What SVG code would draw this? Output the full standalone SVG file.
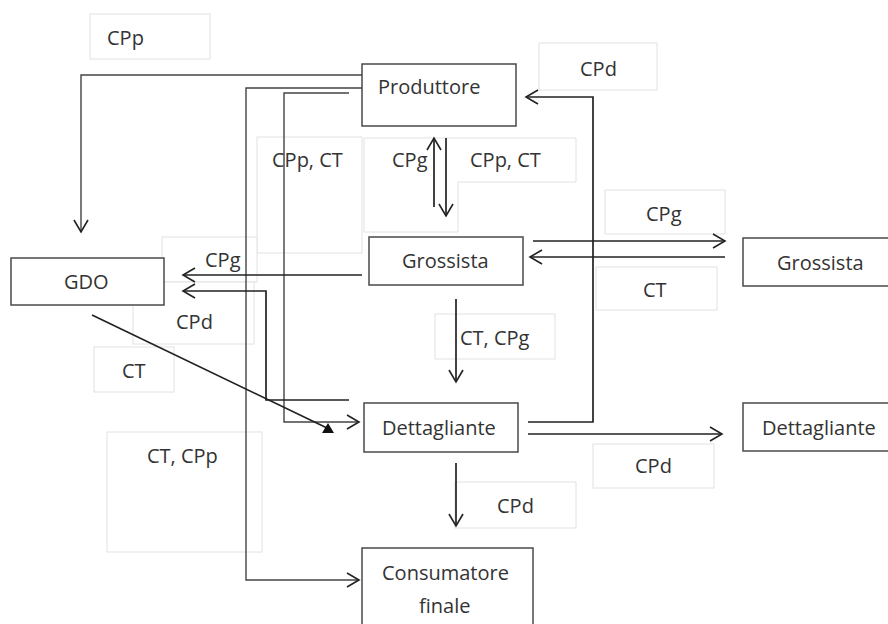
<svg xmlns="http://www.w3.org/2000/svg" width="888" height="624" viewBox="0 0 888 624">
<style>
  .lb { fill: #fff; stroke: #e2e2e2; stroke-width: 1; }
  .nd { fill: #fff; stroke: #4a4a4a; stroke-width: 1.5; }
  text { font-family: "Open Sans", "Liberation Sans", sans-serif; font-size: 20px; fill: #333; }
  .c { fill: none; stroke: #222; stroke-width: 1.7; }
  .cg { fill: none; stroke: #444; stroke-width: 1.4; }
</style>
<defs>
  <marker id="a" markerUnits="userSpaceOnUse" markerWidth="16" markerHeight="18" refX="13" refY="8" orient="auto">
    <path d="M1,1 L13,8 L1,15" fill="none" stroke="#222" stroke-width="1.6"/>
  </marker>
</defs>
<rect width="888" height="624" fill="#fff"/>

<g id="labels">
  <g id="lbl-cpp-top"><rect class="lb" x="90" y="14" width="120" height="45"/><text x="107" y="45">CPp</text></g>
  <g id="lbl-cpd-top"><rect class="lb" x="539" y="43" width="118" height="47"/><text x="580" y="76">CPd</text></g>
  <g id="lbl-cppct-left"><rect class="lb" x="257" y="137" width="105" height="116"/><text x="272" y="167">CPp, CT</text></g>
  <g id="lbl-cpg-cppct-mid"><path class="lb" d="M364,138 H576 V182 H458 V232 H364 Z"/><text x="392" y="167">CPg</text><text x="470" y="167">CPp, CT</text></g>
  <g id="lbl-cpg-right"><rect class="lb" x="605" y="190" width="120" height="44"/><text x="646" y="221">CPg</text></g>
  <g id="lbl-ct-right"><rect class="lb" x="596" y="267" width="121" height="43"/><text x="643" y="297">CT</text></g>
  <g id="lbl-cpg-gdo"><rect class="lb" x="162" y="237" width="95" height="45"/><text x="205" y="267">CPg</text></g>
  <g id="lbl-cpd-gdo"><rect class="lb" x="133" y="282" width="121" height="62"/><text x="176" y="329">CPd</text></g>
  <g id="lbl-ct-left"><rect class="lb" x="94" y="347" width="80" height="45"/><text x="122" y="378">CT</text></g>
  <g id="lbl-ctcpp"><rect class="lb" x="107" y="432" width="155" height="120"/><text x="147" y="463">CT, CPp</text></g>
  <g id="lbl-ctcpg"><rect class="lb" x="435" y="314" width="120" height="45"/><text x="460" y="345">CT, CPg</text></g>
  <g id="lbl-cpd-bottom"><rect class="lb" x="455" y="482" width="121" height="46"/><text x="497" y="513">CPd</text></g>
  <g id="lbl-cpd-right"><rect class="lb" x="593" y="444" width="121" height="44"/><text x="635" y="473">CPd</text></g>
</g>

<g id="produttore"><rect class="nd" x="362" y="64" width="154" height="62"/><text x="378" y="94">Produttore</text></g>
<g id="grossista"><rect class="nd" x="369" y="237" width="154" height="48"/><text x="402" y="268">Grossista</text></g>
<g id="grossista-right"><rect class="nd" x="743" y="238" width="150" height="48"/><text x="777" y="270">Grossista</text></g>
<g id="gdo"><rect class="nd" x="11" y="258" width="153" height="47"/><text x="64" y="289">GDO</text></g>
<g id="dettagliante"><rect class="nd" x="364" y="403" width="154" height="49"/><text x="382" y="435">Dettagliante</text></g>
<g id="dettagliante-right"><rect class="nd" x="743" y="403" width="150" height="48"/><text x="762" y="435">Dettagliante</text></g>
<g id="consumatore"><rect class="nd" x="362" y="548" width="171" height="90"/><text x="382" y="580">Consumatore</text><text x="419" y="613">finale</text></g>

<g id="connectors">
  <polyline class="cg" points="362,75 81,75 81,232" marker-end="url(#a)"/>
  <polyline class="cg" points="362,88 246,88 246,580 359,580" marker-end="url(#a)"/>
  <polyline class="cg" points="349,93 284,93 284,422 359,422" marker-end="url(#a)"/>
  <line class="c" x1="434" y1="207" x2="434" y2="138" marker-end="url(#a)"/>
  <line class="c" x1="446" y1="138" x2="446" y2="216" marker-end="url(#a)"/>
  <polyline class="c" points="528,422 593,422 593,97 526,97" marker-end="url(#a)"/>
  <line class="c" x1="533" y1="241" x2="725" y2="241" marker-end="url(#a)"/>
  <line class="c" x1="725" y1="257" x2="530" y2="257" marker-end="url(#a)"/>
  <line class="c" x1="362" y1="275" x2="183" y2="275" marker-end="url(#a)"/>
  <polyline class="c" points="349,400 266,400 266,291 183,291" marker-end="url(#a)"/>
  <line class="c" x1="92" y1="315" x2="327" y2="428"/>
  <polygon points="328,423 322,433 334,433" fill="#111"/>
  <line class="c" x1="456" y1="299" x2="456" y2="382" marker-end="url(#a)"/>
  <line class="c" x1="456" y1="463" x2="456" y2="526" marker-end="url(#a)"/>
  <line class="c" x1="528" y1="434" x2="722" y2="434" marker-end="url(#a)"/>
</g>
</svg>
